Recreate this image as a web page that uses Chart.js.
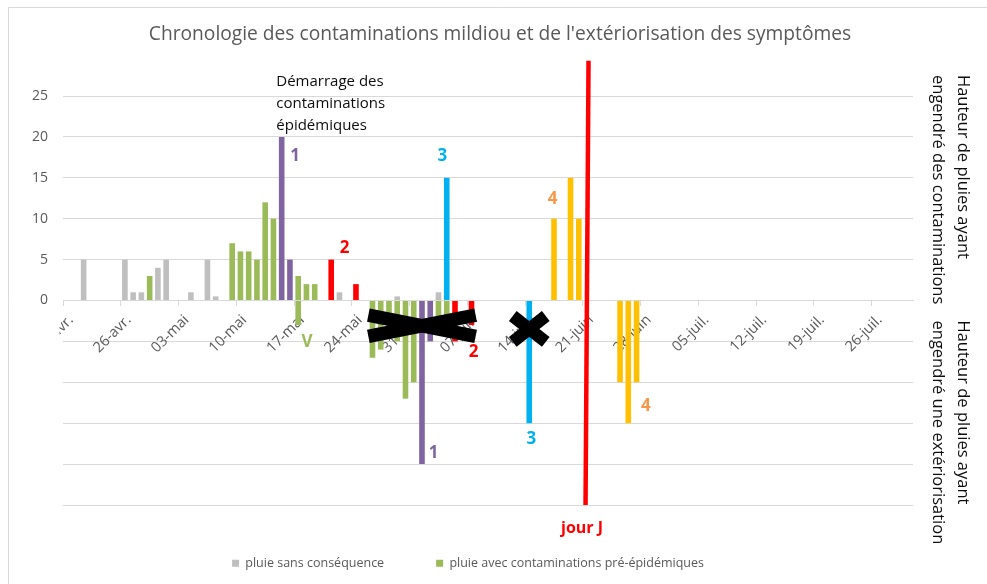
<!DOCTYPE html>
<html><head><meta charset="utf-8">
<script src="https://cdn.jsdelivr.net/npm/chart.js@4.4.1/dist/chart.umd.min.js"></script>
<style>html,body{margin:0;padding:0;background:#fff;}canvas{display:block;}</style>
</head><body>
<canvas id="c" width="987" height="584"></canvas>
<script>
// ---- categories (one per day) ----
const months = [["avr.",19,30],["mai",1,31],["juin",1,30],["juil.",1,30]];
const dayLabels = [];
for (const [m, a, b] of months) for (let d = a; d <= b; d++) dayLabels.push(String(d).padStart(2,"0") + "-" + m);
const tickLabels = ["19-avr.","26-avr.","03-mai","10-mai","17-mai","24-mai","31-mai","07-juin","14-juin","21-juin","28-juin","05-juil.","12-juil.","19-juil.","26-juil."];

// ---- series values (mm), positive = contamination, negative = extériorisation ----
const grayRain     = [["21-avr.",5],["26-avr.",5],["27-avr.",1],["28-avr.",1],["30-avr.",4],["01-mai",5],["04-mai",1],["06-mai",5],["07-mai",0.5],["22-mai",1],["29-mai",0.5],["03-juin",1]];
const greenContam  = [["29-avr.",3],["09-mai",7],["10-mai",6],["11-mai",6],["12-mai",5],["13-mai",12],["14-mai",10],["17-mai",3],["18-mai",2],["19-mai",2]];
const greenSympt   = [["17-mai",-3],["26-mai",-7],["27-mai",-6],["28-mai",-4],["29-mai",-5],["30-mai",-12],["31-mai",-10],["03-juin",-3],["04-juin",-3]];
const purpleContam = [["15-mai",20],["16-mai",5]];
const purpleSympt  = [["01-juin",-20],["02-juin",-5]];
const redContam    = [["21-mai",5],["24-mai",2]];
const redSympt     = [["05-juin",-5],["07-juin",-3]];
const blueContam   = [["04-juin",15]];
const blueSympt    = [["14-juin",-15]];
const orangeContam = [["17-juin",10],["19-juin",15],["20-juin",10]];
const orangeSympt  = [["25-juin",-10],["26-juin",-15],["27-juin",-10]];
const jourJ = "21-juin";

const FONT = "'Open Sans', 'DejaVu Sans', sans-serif";
const C = {gray:"#BFBFBF", green:"#9BBB59", purple:"#8064A2", red:"#FF0000", blue:"#00B0F0", orange:"#FFC000", orangeTxt:"#F79646"};

const toSeries = pairs => dayLabels.map(l => { const f = pairs.find(p => p[0] === l); return f ? f[1] : null; });
const ds = (label, pairs, color) => ({label, data: toSeries(pairs), backgroundColor: color, borderWidth: 0, barPercentage: 0.68, categoryPercentage: 1});

// ---- annotations (positions in data terms) ----
const textNotes = [
  {t:"1", at:"17-mai", dx:-3, v:17.7, c:C.purple},
  {t:"2", at:"23-mai", dx:-3, v:6.35, c:C.red},
  {t:"3", at:"04-juin", dx:-4.5, v:17.65, c:C.blue},
  {t:"4", at:"17-juin", dx:-1.5, v:12.4, c:C.orangeTxt},
  {t:"V", at:"18-mai", dx:0.6, v:-5.1, c:C.green},
  {t:"1", at:"02-juin", dx:3.5, v:-18.7, c:C.purple},
  {t:"2", at:"07-juin", dx:2, v:-6.36, c:C.red},
  {t:"3", at:"14-juin", dx:2, v:-16.9, c:C.blue},
  {t:"4", at:"28-juin", dx:1, v:-12.9, c:C.orangeTxt},
  {t:"jour J", at:"21-juin", dx:-5, v:-27.9, c:C.red}
];
const startNote = ["Démarrage des", "contaminations", "épidémiques"];
const crosses = [
  {from:"26-mai", to:"07-juin", a:-1.8, b:-4.4, w:13.5, edge:true},
  {from:"12-juin", to:"16-juin", a:-1.9, b:-5.05, w:12.5, edge:false}
];

const notesPlugin = {
  id: "notes",
  beforeDraw(chart) {
    const {ctx} = chart;
    ctx.save();
    ctx.fillStyle = "#fff"; ctx.fillRect(0, 0, chart.width, chart.height);
    ctx.strokeStyle = "#D9D9D9"; ctx.lineWidth = 1;
    ctx.beginPath(); ctx.moveTo(8.5, chart.height + 5); ctx.lineTo(8.5, 7.5); ctx.lineTo(chart.width + 5, 7.5); ctx.stroke();
    ctx.restore();
  },
  afterDraw(chart) {
    const {ctx, chartArea: ca} = chart;
    const xs = chart.scales.x, ys = chart.scales.y;
    const px = l => xs.getPixelForValue(dayLabels.indexOf(l));
    const half = (xs.getPixelForValue(1) - xs.getPixelForValue(0)) / 2;
    ctx.save();
    // hide the clipped part of the first date label
    ctx.fillStyle = "#fff"; ctx.fillRect(10, ys.getPixelForValue(0) + 11, ca.left - 13.5, 60);
    // title
    ctx.fillStyle = "#595959"; ctx.font = "19.2px " + FONT; ctx.textAlign = "center"; ctx.textBaseline = "middle";
    ctx.fillText("Chronologie des contaminations mildiou et de l'extériorisation des symptômes", (ca.left + ca.right) / 2 + 12, 35);
    // start note
    ctx.fillStyle = "#0D0D0D"; ctx.font = "15px " + FONT; ctx.textAlign = "left";
    const sx = px("15-mai") - 5.4;
    [26.8, 24.1, 21.4].forEach((v, i) => ctx.fillText(startNote[i], sx, ys.getPixelForValue(v)));
    // crosses
    ctx.strokeStyle = "#000"; ctx.lineCap = "butt";
    for (const k of crosses) {
      const x1 = px(k.from) - (k.edge ? half : 0), x2 = px(k.to) + (k.edge ? half : 0);
      const ya = ys.getPixelForValue(k.a), yb = ys.getPixelForValue(k.b);
      ctx.lineWidth = k.w;
      ctx.beginPath(); ctx.moveTo(x1, ya); ctx.lineTo(x2, yb); ctx.stroke();
      ctx.beginPath(); ctx.moveTo(x1, yb); ctx.lineTo(x2, ya); ctx.stroke();
    }
    // jour J line
    const jx = px(jourJ);
    ctx.strokeStyle = C.red; ctx.lineWidth = 4.5;
    ctx.beginPath(); ctx.moveTo(jx + 1.5, ys.getPixelForValue(29.3)); ctx.lineTo(jx - 1.5, ys.getPixelForValue(-25)); ctx.stroke();
    // numbered labels
    ctx.textAlign = "center"; ctx.textBaseline = "middle";
    for (const n of textNotes) {
      ctx.fillStyle = n.c; ctx.font = "bold " + (n.t.length > 1 ? 16 : 17) + "px " + FONT;
      ctx.fillText(n.t, px(n.at) + n.dx, ys.getPixelForValue(n.v));
    }
    // right-side axis titles (rotated)
    ctx.fillStyle = "#0D0D0D"; ctx.font = "16.5px " + FONT; ctx.textAlign = "left";
    const blocks = [
      {y: ca.top - 21, lines: ["Hauteur de pluies ayant", "engendré des contaminations"]},
      {y: ys.getPixelForValue(0) + 20, lines: ["Hauteur de pluies ayant", "engendré une extériorisation"]}
    ];
    for (const b of blocks) {
      b.lines.forEach((line, i) => {
        ctx.save(); ctx.translate(ca.right + 50 - i * 25, b.y); ctx.rotate(Math.PI / 2);
        ctx.fillText(line, 0, 0); ctx.restore();
      });
    }
    ctx.restore();
  }
};

new Chart(document.getElementById("c"), {
  type: "bar",
  data: {
    labels: dayLabels,
    datasets: [
      ds("pluie sans conséquence", grayRain, C.gray),
      ds("pluie avec contaminations pré-épidémiques", greenContam, C.green),
      ds("extériorisation pré-épidémique", greenSympt, C.green),
      ds("contamination 1", purpleContam, C.purple),
      ds("extériorisation 1", purpleSympt, C.purple),
      ds("contamination 2", redContam, C.red),
      ds("extériorisation 2", redSympt, C.red),
      ds("contamination 3", blueContam, C.blue),
      ds("extériorisation 3", blueSympt, C.blue),
      ds("contamination 4", orangeContam, C.orange),
      ds("extériorisation 4", orangeSympt, C.orange)
    ]
  },
  options: {
    responsive: false, animation: false, devicePixelRatio: 1,
    layout: {padding: {left: 23, right: 74, top: 96, bottom: 4.5}},
    plugins: {
      title: {display: false},
      tooltip: {enabled: false},
      legend: {
        position: "bottom",
        labels: {filter: it => it.datasetIndex < 2, boxWidth: 7, boxHeight: 7, padding: 52, color: "#595959", font: {family: FONT, size: 12.5}}
      }
    },
    scales: {
      x: {
        stacked: true,
        position: {y: 0},
        grid: {drawOnChartArea: false, tickLength: 5, color: c => (c.index % 7 === 0 ? "#D9D9D9" : "rgba(0,0,0,0)")},
        border: {color: "#D9D9D9"},
        ticks: {autoSkip: false, minRotation: 45, maxRotation: 45, padding: 6, labelOffset: 4, color: "#595959", font: {family: FONT, size: 14.5},
          callback: (v, i) => (tickLabels.includes(dayLabels[i]) ? dayLabels[i] : "")}
      },
      y: {
        stacked: true, min: -25, max: 25,
        afterFit: s => { s.width = 40; },
        grid: {color: "#D9D9D9", drawTicks: false},
        border: {display: false},
        ticks: {stepSize: 5, padding: 15, color: "#595959", font: {family: FONT, size: 14}, callback: v => (v >= 0 ? v : "")}
      }
    }
  },
  plugins: [notesPlugin]
});
</script>
</body></html>
